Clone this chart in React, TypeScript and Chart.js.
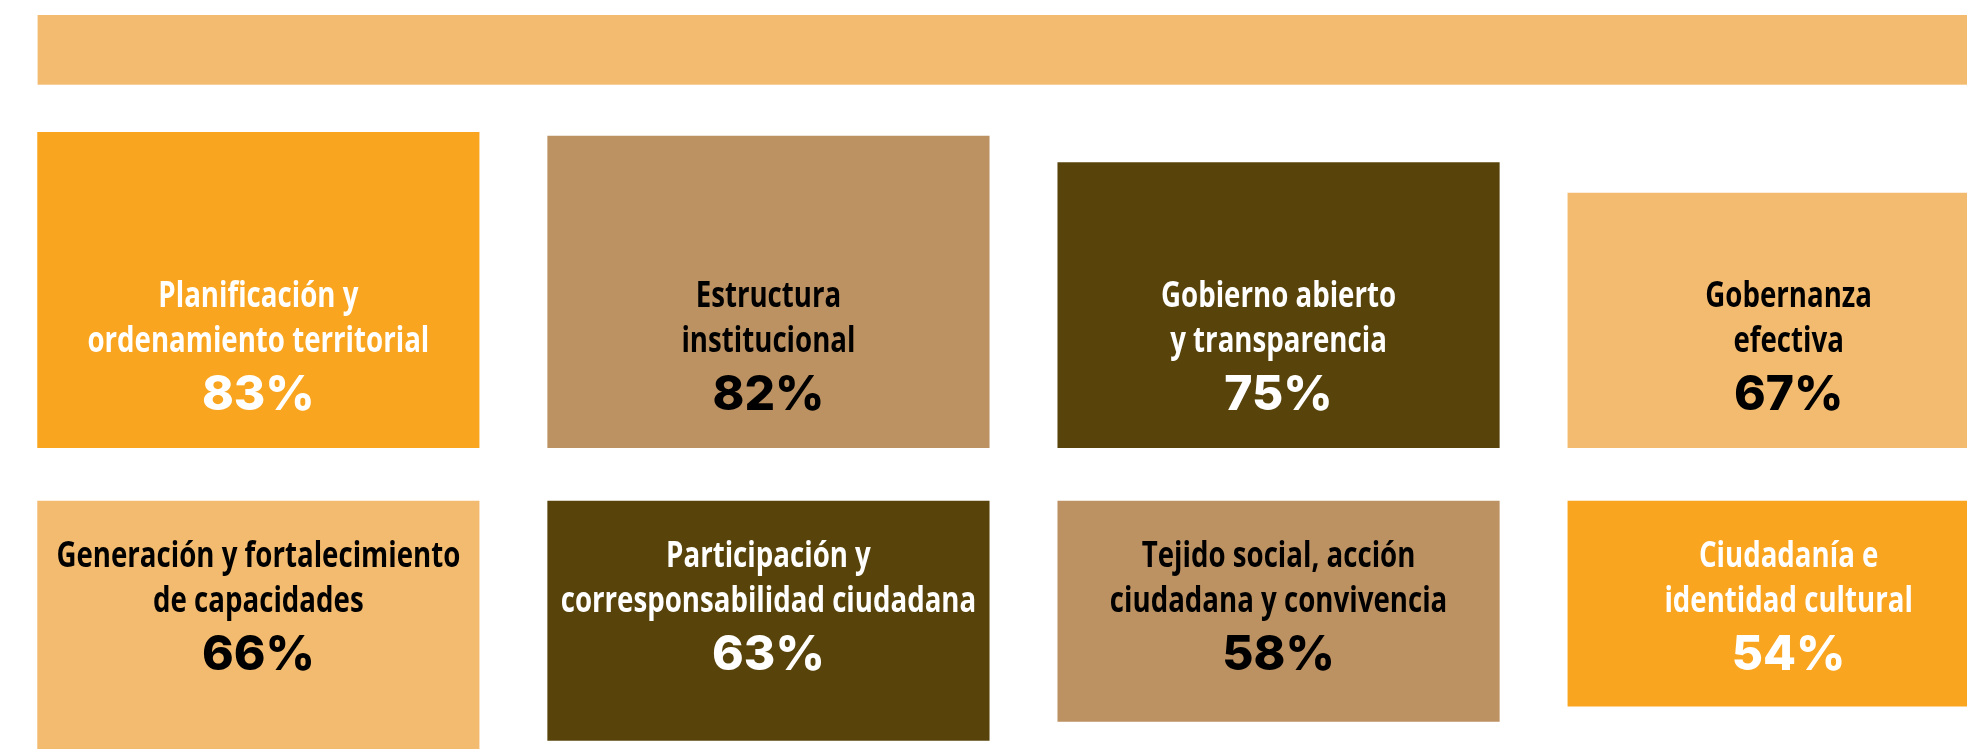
import React, { useEffect, useRef } from "react";
import { Chart, registerables } from "chart.js";

Chart.register(...registerables);

// ---------- data ----------
const categories: string[][] = [
  ["Planificación y", "ordenamiento territorial"],
  ["Estructura", "institucional"],
  ["Gobierno abierto", "y transparencia"],
  ["Gobernanza", "efectiva"],
  ["Generación y fortalecimiento", "de capacidades"],
  ["Participación y", "corresponsabilidad ciudadana"],
  ["Tejido social, acción", "ciudadana y convivencia"],
  ["Ciudadanía e", "identidad cultural"],
];
const values: number[] = [83, 82, 75, 67, 66, 63, 58, 54];
const valueLabels: string[] = values.map((v) => `${v}%`);

// ---------- styles ----------
const ORANGE = "#F9A51F";
const TAN = "#BD9262";
const DARK = "#58440B";
const LIGHT = "#F3BB6F";
const boxColors = [ORANGE, TAN, DARK, LIGHT, LIGHT, DARK, TAN, ORANGE];
const textColors = ["#FFFFFF", "#000000", "#FFFFFF", "#000000", "#000000", "#FFFFFF", "#000000", "#FFFFFF"];

// ---------- layout ----------
const COLUMNS = 4;
const VIEW_W = 1967;
const H = 749;
const CANVAS_W = 2048;
const PAD_LEFT = 3.3;
const PITCH = 510.1;
const PAD_RIGHT = CANVAS_W - PAD_LEFT - PITCH * COLUMNS;
const BOX_W = 441.5;
const PX_PER_POINT = 3.8;
const ROW1_BASE = (H - 447.7) / PX_PER_POINT; // row 1 boxes grow upward from here
const ROW2_TOP = (H - 501) / PX_PER_POINT; // row 2 boxes hang down from here

const LABEL_FONT = "700 35px 'Open Sans', sans-serif";
const LABEL_CONDENSE = 0.79;
const PCT_FONT = "800 48px Inter, sans-serif";
// baselines of [line1, line2, pct] relative to the row anchor, px
const ROW_TEXT_OFFSETS = [
  [-140.4, -96, -37.7],
  [66.3, 110.7, 169],
];

const rowValues = (r: number) => values.slice(r * COLUMNS, r * COLUMNS + COLUMNS);

const bannerPlugin = {
  id: "banner",
  beforeDatasetsDraw(chart: any) {
    const ctx = chart.ctx;
    ctx.save();
    ctx.fillStyle = LIGHT;
    ctx.fillRect(37.6, 15, chart.width, 69.7);
    ctx.restore();
  },
};

const textPlugin = {
  id: "boxText",
  afterDatasetsDraw(chart: any) {
    const ctx = chart.ctx;
    const y = chart.scales.y;
    const anchors = [y.getPixelForValue(ROW1_BASE), y.getPixelForValue(ROW2_TOP)];
    chart.data.datasets.forEach((_ds: any, r: number) => {
      const meta = chart.getDatasetMeta(r);
      meta.data.forEach((bar: any, c: number) => {
        const idx = r * COLUMNS + c;
        const cx = bar.x;
        const off = ROW_TEXT_OFFSETS[r];
        ctx.save();
        ctx.fillStyle = textColors[idx];
        ctx.textAlign = "center";
        ctx.textBaseline = "alphabetic";
        ctx.font = LABEL_FONT;
        categories[idx].forEach((line, li) => {
          ctx.save();
          ctx.translate(cx, anchors[r] + off[li]);
          ctx.scale(LABEL_CONDENSE, 1);
          ctx.fillText(line, 0, 0);
          ctx.restore();
        });
        ctx.font = PCT_FONT;
        ctx.fillText(valueLabels[idx], cx, anchors[r] + off[2]);
        ctx.restore();
      });
    });
  },
};

export default function App() {
  const ref = useRef<HTMLCanvasElement | null>(null);

  useEffect(() => {
    if (!ref.current) return;
    const chart = new Chart(ref.current, {
      type: "bar",
      data: {
        labels: ["1", "2", "3", "4"],
        datasets: [
          {
            label: "fila 1",
            data: rowValues(0).map((v) => [ROW1_BASE, ROW1_BASE + v]) as any,
            backgroundColor: boxColors.slice(0, 4),
            borderWidth: 0,
            grouped: false,
            barThickness: BOX_W,
          },
          {
            label: "fila 2",
            data: rowValues(1).map((v) => [ROW2_TOP - v, ROW2_TOP]) as any,
            backgroundColor: boxColors.slice(4, 8),
            borderWidth: 0,
            grouped: false,
            barThickness: BOX_W,
          },
        ],
      },
      options: {
        animation: false,
        responsive: false,
        devicePixelRatio: 1,
        events: [],
        layout: { padding: { left: PAD_LEFT, right: PAD_RIGHT, top: 0, bottom: 0 } },
        plugins: {
          legend: { display: false },
          tooltip: { enabled: false },
          title: { display: false },
        },
        scales: {
          x: { type: "category", display: false, offset: true, grid: { display: false } },
          y: { type: "linear", display: false, min: 0, max: H / PX_PER_POINT, grid: { display: false } },
        },
      },
      plugins: [bannerPlugin, textPlugin],
    });
    return () => chart.destroy();
  }, []);

  return (
    <div
      style={{
        position: "fixed",
        left: 0,
        top: 0,
        width: VIEW_W,
        height: H,
        overflow: "hidden",
        background: "#FFFFFF",
      }}
    >
      <canvas ref={ref} width={CANVAS_W} height={H} style={{ display: "block", width: CANVAS_W, height: H }} />
    </div>
  );
}
